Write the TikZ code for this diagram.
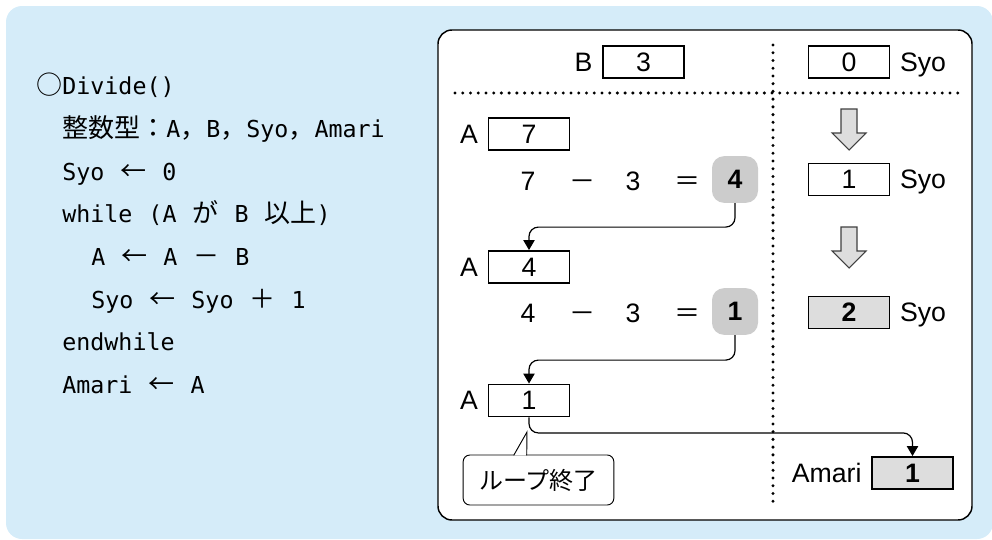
\documentclass[tikz,border=0pt]{standalone}
\usepackage{fontspec}
\setmainfont{Liberation Sans}
\setmonofont{DejaVu Sans Mono}
\newfontfamily\cjk{Noto Sans CJK JP}
\usetikzlibrary{positioning,arrows.meta}
\definecolor{bgblue}{RGB}{213,236,249}
\definecolor{resultgray}{RGB}{204,204,204}
\definecolor{shadegray}{RGB}{221,221,221}
\newcommand{\jp}[1]{{\cjk\fontsize{19.5}{20}\selectfont #1}}
\newcommand{\codegap}{\hspace{12pt}}

\begin{document}
\begin{tikzpicture}[
  x=0.75pt, y=-0.75pt,
  node distance=7pt,
  codeline/.style={anchor=base west, inner sep=0pt, font=\ttfamily\fontsize{17.5}{20}\selectfont},
  valbox/.style={draw, line width=1.4pt, minimum width=60.75pt, minimum height=24pt, inner sep=0pt, font=\fontsize{20}{22}\selectfont},
  shadebox/.style={valbox, fill=shadegray, font=\bfseries\fontsize{20}{22}\selectfont},
  result/.style={fill=resultgray, rounded corners=9pt, minimum width=34.5pt, minimum height=35pt, inner sep=0pt, font=\bfseries\fontsize{20}{22}\selectfont},
  varname/.style={inner sep=0pt, text depth=0pt, font=\fontsize{20}{22}\selectfont},
  term/.style={inner sep=0pt, text height=14.3pt, text depth=0pt, font=\fontsize{20}{22}\selectfont},
  dotline/.style={line width=2.5pt, line cap=round, dash pattern=on 0pt off 5.8pt},
  conn/.style={line width=0.9pt, rounded corners=7pt, -{Triangle[length=7.5pt,width=8.5pt]}},
  stepdown/.style={draw=black!75, fill=shadegray, line width=0.8pt, line join=miter}
]
\useasboundingbox (0,0) rectangle (992,539);
\fill[bgblue, rounded corners=12pt] (6,6) rectangle (993,539);

% pseudo code
\node[codeline] (title) at (36,94) {\jp{○}Divide()};
\node[codeline] (decl) at (62,137) {\jp{整数型：}A\jp{，}B\jp{，}Syo\jp{，}Amari};
\node[codeline] (init) at (62,180) {Syo\codegap\jp{←}\codegap 0};
\node[codeline] (loop) at (62,222) {while\codegap(A\codegap\jp{が}\codegap B\codegap\jp{以上})};
\node[codeline] (sub) at (91,265) {A\codegap\jp{←}\codegap A\codegap\jp{－}\codegap B};
\node[codeline] (inc) at (91,308) {Syo\codegap\jp{←}\codegap Syo\codegap\jp{＋}\codegap 1};
\node[codeline] (endl) at (62,350) {endwhile};
\node[codeline] (rem) at (62,393) {Amari\codegap\jp{←}\codegap A};

% trace panel
\draw[line width=1.1pt, fill=white, rounded corners=10.5pt] (438,30) rectangle (972,520);
\draw[dotline] (455,93) -- (962,93);
\draw[dotline] (773,45) -- (773,508);

\node[valbox] (bval) at (643.5,62) {3};
\node[varname, left=of bval] (bname) {B};

\node[valbox] (a1) at (529,134) {7};
\node[varname, left=of a1] (a1name) {A};
\node[term] (x1) at (528,181) {7};
\node[term] (m1) at (582,181) {\jp{－}};
\node[term] (y1) at (633,181) {3};
\node[term] (e1) at (687,181) {\jp{＝}};
\node[result] (g1) at (735,179.5) {4};

\node[valbox] (a2) at (529,267) {4};
\node[varname, left=of a2] (a2name) {A};
\node[term] (x2) at (528,313) {4};
\node[term] (m2) at (582,313) {\jp{－}};
\node[term] (y2) at (633,313) {3};
\node[term] (e2) at (687,313) {\jp{＝}};
\node[result] (g2) at (735,311.5) {1};

\node[valbox] (a3) at (529,400.5) {1};
\node[varname, left=of a3] (a3name) {A};

\node[valbox] (syo0) at (849,62) {0};
\node[varname, right=of syo0] (syo0name) {Syo};
\node[valbox] (syo1) at (849,179.5) {1};
\node[varname, right=of syo1] (syo1name) {Syo};
\node[shadebox] (syo2) at (849,312.5) {2};
\node[varname, right=of syo2] (syo2name) {Syo};
\foreach \t in {109,227}
  \draw[stepdown] (841,\t) -- (857,\t) -- (857,\t+24) -- (866,\t+24) -- (849,\t+41)
    -- (832,\t+24) -- (841,\t+24) -- cycle;

\node[shadebox] (amval) at (912.5,473) {1};
\node[varname, left=of amval] (amname) {Amari};

% loop end note
\node[draw, fill=white, line width=0.7pt, rounded corners=5pt, minimum width=113pt, minimum height=37.5pt,
  font=\cjk\fontsize{18}{20}\selectfont] (endnote) at (538.5,480) {ループ終了};
\coordinate (notetip) at (527,432);
\draw[line width=0.7pt, fill=white] ([xshift=38.25pt,yshift=-0.6pt]endnote.north west) -- (notetip)
  -- ([xshift=48pt,yshift=-0.6pt]endnote.north west);

\draw[conn] (g1.south) -- ++(0,24) -| (a2.north);
\draw[conn] (g2.south) -- ++(0,25) -| (a3.north);
\draw[conn] (a3.south) -- ++(0,15.5) -| (amval.north);
\end{tikzpicture}
\end{document}
